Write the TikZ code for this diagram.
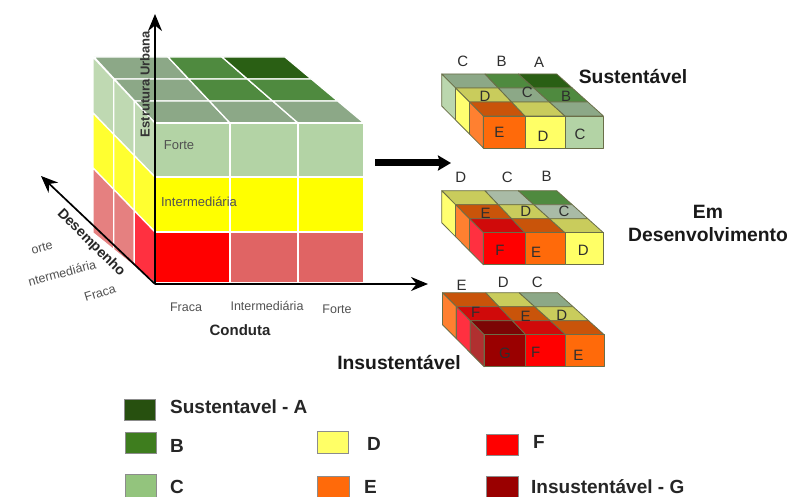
\documentclass[tikz,border=0pt]{standalone}
\usepackage{fontspec}
\setmainfont{Liberation Sans}
\usetikzlibrary{arrows.meta,calc}
\definecolor{cA}{HTML}{27500F}
\definecolor{cB}{HTML}{3E7D1E}
\definecolor{cC}{HTML}{B3D3A5}
\definecolor{cD}{HTML}{FFFF66}
\definecolor{cE}{HTML}{FF6A0A}
\definecolor{cF}{HTML}{FF0000}
\definecolor{cG}{HTML}{9A0000}
\definecolor{legC}{HTML}{93C47D}
\definecolor{tA}{HTML}{2A5F14}
\definecolor{tB}{HTML}{4F8A3F}
\definecolor{tC}{HTML}{8CA887}
\definecolor{tD}{HTML}{C9CC5C}
\definecolor{tE}{HTML}{C9540A}
\definecolor{tF}{HTML}{D00A0A}
\definecolor{tG}{HTML}{7C0505}
\definecolor{tS}{HTML}{A9BBA6}
\definecolor{sC}{HTML}{BBD7AE}
\definecolor{sD}{HTML}{FFFF70}
\definecolor{sE}{HTML}{FF8030}
\definecolor{sF}{HTML}{FF3040}
\definecolor{sG}{HTML}{B03030}
\definecolor{bigGreen}{HTML}{B3D3A5}
\definecolor{bigGreenS}{HTML}{BFD9B2}
\definecolor{bigRed}{HTML}{E06464}
\definecolor{bigRedS}{HTML}{E58080}
\definecolor{bigYellow}{HTML}{FFFF00}
\definecolor{bigYellowS}{HTML}{FFFF30}
\definecolor{edgeC}{HTML}{6A6E48}
\tikzset{
  axisline/.style={line width=1.7pt,-{Stealth[length=17pt,width=14pt]}},
  cellw/.style={draw=white,line width=1.3pt},
  cellk/.style={draw=edgeC,line width=0.8pt,line join=round},
  ticktxt/.style={font=\fontsize{12.5}{14}\selectfont,text=black!68,inner sep=0pt},
  insidetxt/.style={font=\fontsize{13}{15}\selectfont,text=black!68,inner sep=0pt},
  boldtxt/.style={font=\fontsize{15}{17}\selectfont\bfseries,text=black!85,inner sep=0pt},
  rotboldtxt/.style={font=\fontsize{14.2}{17}\selectfont\bfseries,text=black!85,inner sep=0pt},
  axistxt/.style={font=\fontsize{13}{15}\selectfont\bfseries,text=black!80,inner sep=0pt},
  lettertxt/.style={font=\fontsize{15}{17}\selectfont,text=black!82,inner sep=0pt},
  titletxt/.style={font=\fontsize{19.3}{22}\selectfont\bfseries,text=black!90,inner sep=0pt},
  legendtxt/.style={font=\fontsize{19}{22}\selectfont\bfseries,text=black!85,inner sep=0pt},
  legendbox/.style={draw=black!45,line width=0.8pt},
}
\newcommand{\slabcube}[4]{%
  \begin{scope}[shift={(#1)}]
    \foreach \i/\xb/\xf in {0/0/41.6,1/43.3/83.3,2/76.7/123.3,3/115/161.7}
      \foreach \j in {0,1,2,3}
        \coordinate (g\i\j) at ({\xb+(\xf-\xb)*\j/3},{14*\j});
    \foreach \c [count=\n from 0] in {#2}{
      \pgfmathtruncatemacro\ia{mod(\n,3)}
      \pgfmathtruncatemacro\ja{int(\n/3)}
      \pgfmathtruncatemacro\ib{\ia+1}
      \pgfmathtruncatemacro\jb{\ja+1}
      \draw[cellk,fill=\c] (g\ia\ja) -- (g\ib\ja) -- (g\ib\jb) -- (g\ia\jb) -- cycle;
    }
    \foreach \c [count=\n from 0] in {#3}{
      \pgfmathtruncatemacro\jb{\n+1}
      \draw[cellk,fill=\c] (g0\n) -- (g0\jb) -- ++(0,32) -- ($(g0\n)+(0,32)$) -- cycle;
    }
    \foreach \c [count=\n from 0] in {#4}{
      \pgfmathtruncatemacro\ib{\n+1}
      \draw[cellk,fill=\c] (g\n3) -- (g\ib3) -- ++(0,32) -- ($(g\n3)+(0,32)$) -- cycle;
    }
  \end{scope}%
}
\begin{document}
\begin{tikzpicture}[x=1pt,y=-1pt]
\useasboundingbox (0,0) rectangle (792,497);
\fill[white] (0,0) rectangle (792,497);

% ---- big cube: top face
\foreach \i/\xb/\xf in {0/94/155,1/168/230,2/222/298,3/285/364}
  \foreach \j in {0,1,2,3}
    \coordinate (t\i\j) at ({\xb+(\xf-\xb)*\j/3},{57+22*\j});
\foreach \c [count=\n from 0] in {tC,tB,tA,tC,tB,tB,tC,tC,tC}{
  \pgfmathtruncatemacro\ia{mod(\n,3)}
  \pgfmathtruncatemacro\ja{int(\n/3)}
  \pgfmathtruncatemacro\ib{\ia+1}
  \pgfmathtruncatemacro\jb{\ja+1}
  \filldraw[cellw,fill=\c] (t\ia\ja) -- (t\ib\ja) -- (t\ib\jb) -- (t\ia\jb) -- cycle;
}
% ---- big cube: left face
\foreach \r/\yb/\yf in {0/57/123,1/113/177,2/168/232,3/233/283}
  \foreach \j in {0,1,2,3}
    \coordinate (l\j\r) at ({93+(155-93)*\j/3},{\yb+(\yf-\yb)*\j/3});
\foreach \c [count=\n from 0] in {bigGreenS,bigGreenS,bigGreenS,bigYellowS,bigYellowS,bigYellowS,bigRedS,bigRedS,sF}{
  \pgfmathtruncatemacro\ja{mod(\n,3)}
  \pgfmathtruncatemacro\ra{int(\n/3)}
  \pgfmathtruncatemacro\jb{\ja+1}
  \pgfmathtruncatemacro\rb{\ra+1}
  \filldraw[cellw,fill=\c] (l\ja\ra) -- (l\jb\ra) -- (l\jb\rb) -- (l\ja\rb) -- cycle;
}
% ---- big cube: front face
\foreach \xa/\xb/\ya/\yb/\c in {
  155/230/123/177/bigGreen,230/298/123/177/bigGreen,298/364/123/177/bigGreen,
  155/230/177/232/bigYellow,230/298/177/232/bigYellow,298/364/177/232/bigYellow,
  155/230/232/283/cF,230/298/232/283/bigRed,298/364/232/283/bigRed}
  \filldraw[cellw,fill=\c] (\xa,\ya) rectangle (\xb,\yb);

% ---- axes
\coordinate (origin) at (155,284);
\coordinate (axisUp) at (155,14);
\coordinate (axisRight) at (428,284);
\coordinate (axisBack) at (41,176);
\draw[axisline] (origin) -- (axisUp);
\draw[axisline] (origin) -- (axisRight);
\draw[axisline] (origin) -- (axisBack);

% ---- big cube labels
\node[axistxt,rotate=90] (lblEstrutura) at (145,84) {Estrutura Urbana};
\node[insidetxt] (lblForteA) at (179,145) {Forte};
\node[insidetxt] (lblInterA) at (199,202) {Intermediária};
\node[ticktxt] (lblFracaB) at (186,307) {Fraca};
\node[ticktxt] (lblInterB) at (267,306) {Intermediária};
\node[ticktxt] (lblForteB) at (337,309) {Forte};
\node[boldtxt] (lblConduta) at (240,330) {Conduta};
\node[rotboldtxt,rotate=-45] (lblDesempenho) at (91,243) {Desempenho};
\node[ticktxt,rotate=15] (lblForteC) at (42,248) {orte};
\node[ticktxt,rotate=15] (lblInterC) at (62,273) {ntermediária};
\node[ticktxt,rotate=17] (lblFracaC) at (100,293) {Fraca};

% ---- connecting arrow
\coordinate (arrowStart) at (375,163);
\coordinate (arrowEnd) at (451,163);
\draw[line width=7pt,-{Stealth[length=13pt,width=15pt,inset=2pt]}] (arrowStart) -- (arrowEnd);

% ---- slabs
\slabcube{441.7,74}{tC,tB,tA,tD,tC,tB,tE,tD,tC}{sC,sD,sE}{cE,cD,cC}
\slabcube{441.7,190.7}{tD,tS,tB,tE,tD,tS,tF,tE,tD}{sD,sE,sF}{cF,cE,cD}
\slabcube{442.5,292.7}{tE,tD,tC,tF,tE,tD,tG,tF,tE}{sE,sF,sG}{cG,cF,cE}

% ---- slab letters
\node[lettertxt] (a1) at (462.7,61.7) {C};
\node[lettertxt] (a2) at (501.7,61.7) {B};
\node[lettertxt] (a3) at (539,62.7) {A};
\node[lettertxt] (a4) at (485,96.7) {D};
\node[lettertxt] (a5) at (527.3,92.7) {C};
\node[lettertxt] (a6) at (566,96.7) {B};
\node[lettertxt] (a7) at (499.3,132.7) {E};
\node[lettertxt] (a8) at (543,136) {D};
\node[lettertxt] (a9) at (580,134) {C};
\node[lettertxt] (b1) at (460.7,177.3) {D};
\node[lettertxt] (b2) at (507.3,177.3) {C};
\node[lettertxt] (b3) at (546.7,176) {B};
\node[lettertxt] (b4) at (485.7,213.3) {E};
\node[lettertxt] (b5) at (525.7,211.7) {D};
\node[lettertxt] (b6) at (564,211) {C};
\node[lettertxt] (b7) at (500,250) {F};
\node[lettertxt] (b8) at (536,252.7) {E};
\node[lettertxt] (b9) at (583.3,250) {D};
\node[lettertxt] (c1) at (461.7,285) {E};
\node[lettertxt] (c2) at (503.3,282.7) {D};
\node[lettertxt] (c3) at (537.3,282.7) {C};
\node[lettertxt] (c4) at (475.7,312.7) {F};
\node[lettertxt] (c5) at (525.7,316) {E};
\node[lettertxt] (c6) at (561.7,315) {D};
\node[lettertxt] (c7) at (505,353.3) {G};
\node[lettertxt] (c8) at (535.7,352.7) {F};
\node[lettertxt] (c9) at (578.3,355.7) {E};

% ---- slab titles
\node[titletxt] (titleS) at (633,77) {Sustentável};
\node[titletxt] (titleEm) at (708,212) {Em};
\node[titletxt] (titleD) at (708,235) {Desenvolvimento};
\node[titletxt] (titleI) at (399,363) {Insustentável};

% ---- legend
\draw[legendbox,fill=cA] (124,399) rectangle (155,420);
\draw[legendbox,fill=cB] (125,432) rectangle (156,453);
\draw[legendbox,fill=legC] (125,474) rectangle (156,497);
\draw[legendbox,fill=cD] (317,431) rectangle (348,453);
\draw[legendbox,fill=cE] (317,476) rectangle (349,497);
\draw[legendbox,fill=cF] (486,434) rectangle (518,455);
\draw[legendbox,fill=cG] (486,476) rectangle (518,497);
\node[legendtxt,anchor=west] (legA) at (170,407) {Sustentavel - A};
\node[legendtxt,anchor=west] (legB) at (170,446) {B};
\node[legendtxt,anchor=west] (legC) at (170,487) {C};
\node[legendtxt,anchor=west] (legD) at (367,444) {D};
\node[legendtxt,anchor=west] (legE) at (364,487) {E};
\node[legendtxt,anchor=west] (legF) at (533,442) {F};
\node[legendtxt,anchor=west] (legG) at (531,487) {Insustentável - G};
\end{tikzpicture}
\end{document}
